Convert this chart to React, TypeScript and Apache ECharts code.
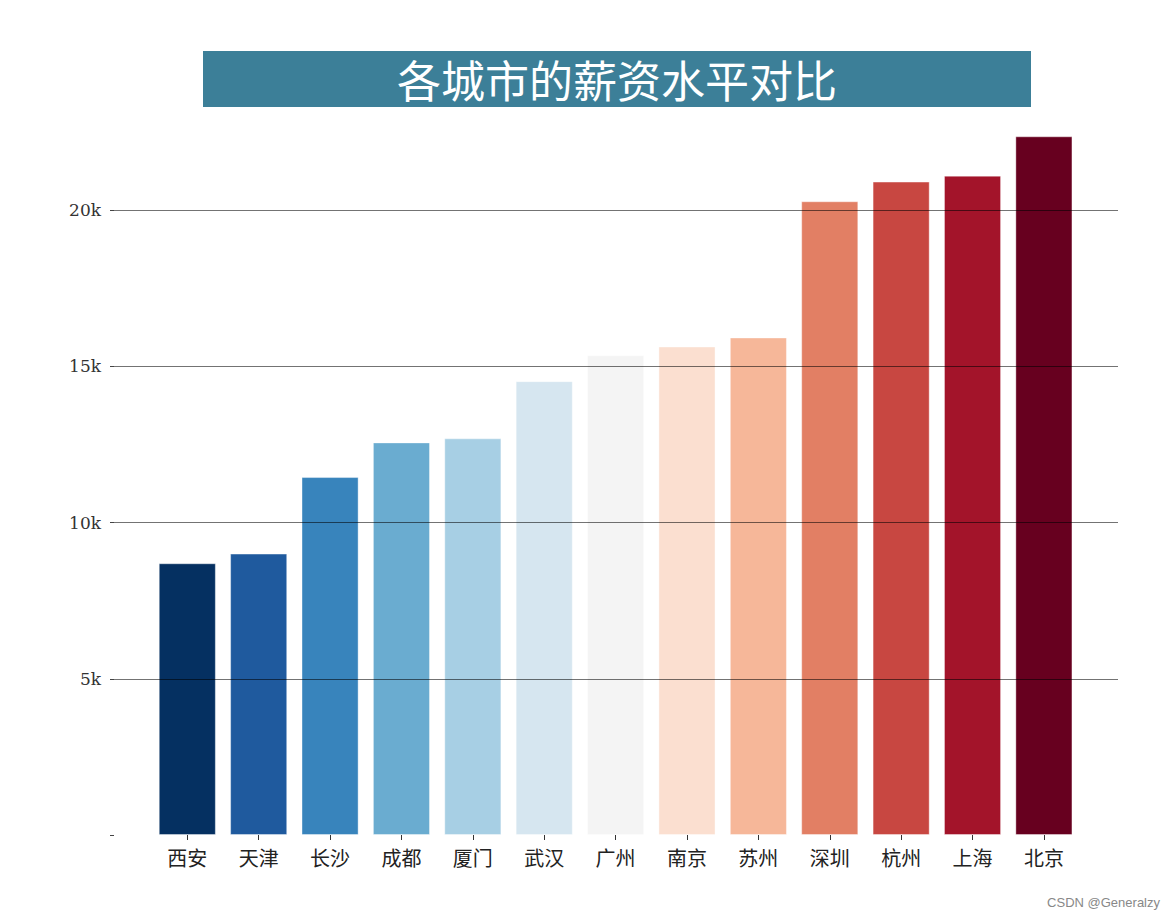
import React, { useEffect, useRef } from "react";
import * as echarts from "echarts";

const cities = ["西安", "天津", "长沙", "成都", "厦门", "武汉", "广州", "南京", "苏州", "深圳", "杭州", "上海", "北京"];
const salaries = [8700, 9010, 11460, 12570, 12700, 14530, 15360, 15640, 15930, 20290, 20920, 21110, 22370];
const barColors = [
  "#053061", "#1f5a9e", "#3884bc", "#6aacd0", "#a7cfe4", "#d6e6f0", "#f4f4f4",
  "#fbdfd0", "#f6b799", "#e27f64", "#c84741", "#a3142a", "#67001f",
];
const yTicks = [0, 5000, 10000, 15000, 20000];
const yTickLabels = ["", "5k", "10k", "15k", "20k"];
const titleText = "各城市的薪资水平对比";

export default function App() {
  const ref = useRef<HTMLDivElement>(null);
  useEffect(() => {
    if (!ref.current) return;
    const chart = echarts.init(ref.current, undefined, { renderer: "svg" });
    const yMax = 23500;
    chart.setOption({
      animation: false,
      backgroundColor: "#ffffff",
      grid: [
        { left: 110, right: 57, top: 210, bottom: 84 },
        { left: 151.6, right: 95.4, top: 101, bottom: 84 },
      ],
      xAxis: [
        { type: "value", gridIndex: 0, min: 0, max: 1, show: false },
        {
          type: "category",
          gridIndex: 1,
          data: cities,
          axisLine: { show: false },
          axisTick: { show: true, alignWithLabel: true, length: 5, lineStyle: { color: "#333", width: 1 } },
          axisLabel: { margin: 12, fontSize: 20, color: "#222", fontFamily: "Noto Sans CJK SC" },
        },
      ],
      yAxis: [
        {
          type: "value",
          gridIndex: 0,
          min: 0,
          max: 20000,
          interval: 5000,
          z: 5,
          axisLine: { show: false },
          axisTick: { show: true, inside: true, length: 4, lineStyle: { color: "#444", width: 1 } },
          axisLabel: {
            margin: 9,
            fontSize: 17,
            color: "#333",
            fontFamily: "DejaVu Serif",
            formatter: (v: number) => {
              const i = yTicks.indexOf(v);
              return i >= 0 ? yTickLabels[i] : "";
            },
          },
          splitLine: {
            show: true,
            showMinLine: false,
            showMaxLine: true,
            lineStyle: { color: "rgba(0,0,0,0.55)", width: 1.2 },
          },
        },
        { type: "value", gridIndex: 1, min: 0, max: yMax, show: false, splitLine: { show: false } },
      ],
      series: [
        {
          type: "bar",
          xAxisIndex: 1,
          yAxisIndex: 1,
          barWidth: "80%",
          data: salaries.map((v, i) => ({
            value: v,
            itemStyle: { color: barColors[i], borderColor: "rgba(255,255,255,0.4)", borderWidth: 1 },
          })),
        },
      ],
      graphic: [
        {
          type: "rect",
          shape: { x: 203, y: 51, width: 828, height: 56 },
          style: { fill: "#3c7f98" },
          z: 10,
        },
        {
          type: "text",
          x: 617,
          y: 79,
          z: 11,
          style: {
            text: titleText,
            fill: "#ffffff",
            font: "44px 'Noto Sans CJK SC'",
            align: "center",
            verticalAlign: "middle",
          },
        },
        {
          type: "text",
          right: 15,
          bottom: 10,
          z: 11,
          style: {
            text: "CSDN @Generalzy",
            fill: "#888",
            font: "13px 'Liberation Sans'",
          },
        },
      ],
    });
    return () => chart.dispose();
  }, []);
  return (
    <div
      ref={ref}
      style={{ position: "fixed", left: 0, top: 0, width: 1175, height: 919 }}
    />
  );
}
